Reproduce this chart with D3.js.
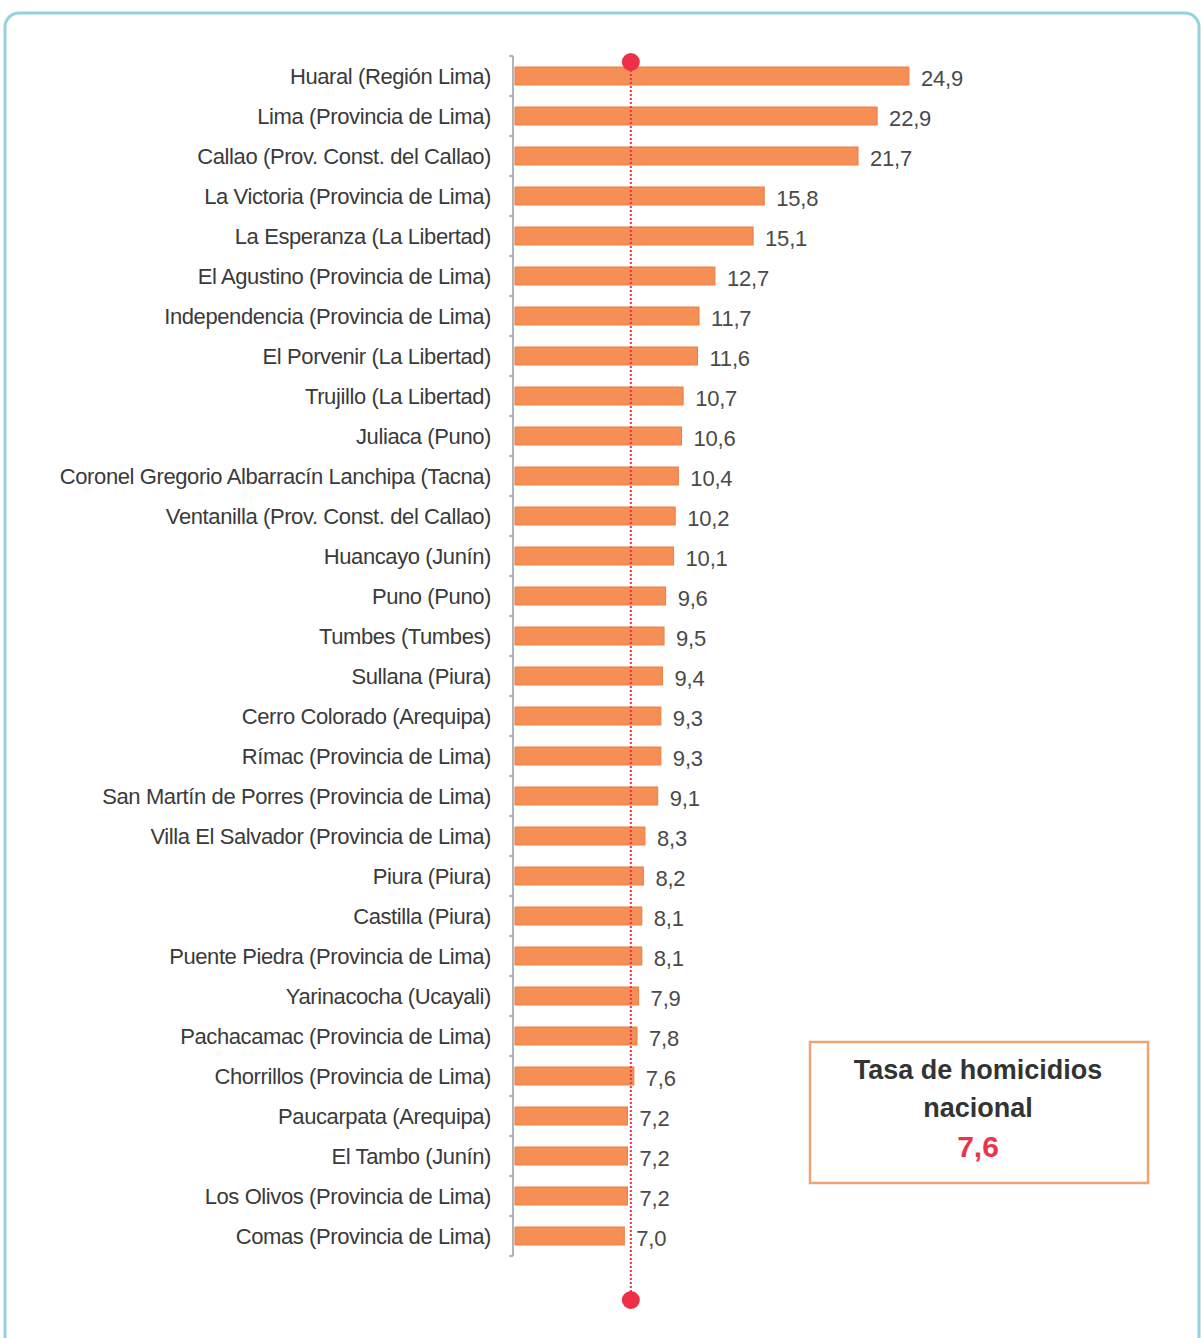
<!DOCTYPE html>
<html>
<head>
<meta charset="utf-8">
<script src="https://cdn.jsdelivr.net/npm/d3@7"></script>
<style>
  html, body { margin: 0; padding: 0; background: #fff; }
  svg { display: block; }
  .lbl { font-family: "Liberation Sans", Arial, sans-serif; }
</style>
</head>
<body>
<svg id="chart" width="1201" height="1338"></svg>
<script>
// districts, top to bottom
const districts = [
    "Huaral (Región Lima)",
    "Lima (Provincia de Lima)",
    "Callao (Prov. Const. del Callao)",
    "La Victoria (Provincia de Lima)",
    "La Esperanza (La Libertad)",
    "El Agustino (Provincia de Lima)",
    "Independencia (Provincia de Lima)",
    "El Porvenir (La Libertad)",
    "Trujillo (La Libertad)",
    "Juliaca (Puno)",
    "Coronel Gregorio Albarracín Lanchipa (Tacna)",
    "Ventanilla (Prov. Const. del Callao)",
    "Huancayo (Junín)",
    "Puno (Puno)",
    "Tumbes (Tumbes)",
    "Sullana (Piura)",
    "Cerro Colorado (Arequipa)",
    "Rímac (Provincia de Lima)",
    "San Martín de Porres (Provincia de Lima)",
    "Villa El Salvador (Provincia de Lima)",
    "Piura (Piura)",
    "Castilla (Piura)",
    "Puente Piedra (Provincia de Lima)",
    "Yarinacocha (Ucayali)",
    "Pachacamac (Provincia de Lima)",
    "Chorrillos (Provincia de Lima)",
    "Paucarpata (Arequipa)",
    "El Tambo (Junín)",
    "Los Olivos (Provincia de Lima)",
    "Comas (Provincia de Lima)"
];

const rates = [24.9, 22.9, 21.7, 15.8, 15.1, 12.7, 11.7, 11.6, 10.7, 10.6,
               10.4, 10.2, 10.1, 9.6, 9.5, 9.4, 9.3, 9.3, 9.1, 8.3,
               8.2, 8.1, 8.1, 7.9, 7.8, 7.6, 7.2, 7.2, 7.2, 7.0];

const nationalRate = 7.6;
const legendLines = ["Tasa de homicidios", "nacional"];

const fmt = v => d3.format(".1f")(v).replace(".", ",");

const svg = d3.select("#chart");

// outer rounded frame
svg.append("rect")
    .attr("x", 5)
    .attr("y", 13)
    .attr("width", 1194)
    .attr("height", 1345)
    .attr("rx", 14)
    .attr("fill", "#fff")
    .attr("stroke", "#93d2de")
    .attr("stroke-width", 3);

const x0 = 513;

const x = d3.scaleLinear()
    .domain([0, 1])
    .range([x0, x0 + 15.9]);

const y = d3.scaleBand()
    .domain(districts)
    .range([56, 1256])
    .paddingInner(0.55)
    .paddingOuter(0.275);

const chart = svg.append("g");

// category axis (ticks sit between bars)
const axisG = chart.append("g");
axisG.append("line")
    .attr("x1", x0).attr("x2", x0)
    .attr("y1", 56).attr("y2", 1256)
    .attr("stroke", "#9a9aa6")
    .attr("stroke-width", 1.5);

const tickPos = d3.range(districts.length + 1).map(i => 56 + i * y.step());
axisG.selectAll(".tick")
    .data(tickPos)
    .enter()
    .append("line")
    .attr("x1", x0 - 4).attr("x2", x0)
    .attr("y1", d => d).attr("y2", d => d)
    .attr("stroke", "#9a9aa6")
    .attr("stroke-width", 1.5);

// bars
chart.selectAll(".bar")
    .data(rates)
    .enter()
    .append("rect")
    .attr("class", "bar")
    .attr("x", x(0) + 2)
    .attr("y", (d, i) => y(districts[i]))
    .attr("width", d => x(d) - x(0) - 2)
    .attr("height", y.bandwidth())
    .attr("fill", "#f58f55")
    .attr("stroke", "#ea7f42")
    .attr("stroke-width", 1);

// category labels
chart.selectAll(".cat")
    .data(districts)
    .enter()
    .append("text")
    .attr("class", "lbl")
    .attr("x", x0 - 22)
    .attr("y", d => y(d) + y.bandwidth() / 2)
    .attr("dy", "0.36em")
    .attr("text-anchor", "end")
    .attr("font-size", 22)
    .attr("letter-spacing", -0.4)
    .attr("fill", "#3a3a3a")
    .text(d => d);

// value labels
chart.selectAll(".val")
    .data(rates)
    .enter()
    .append("text")
    .attr("class", "lbl")
    .attr("x", d => x(d) + 12)
    .attr("y", (d, i) => y(districts[i]) + y.bandwidth() / 2 + 2)
    .attr("dy", "0.36em")
    .attr("font-size", 22)
    .attr("letter-spacing", -0.2)
    .attr("fill", "#4a4a4a")
    .text(d => fmt(d));

// national reference line
const refX = x(nationalRate) - 3;
chart.append("line")
    .attr("x1", refX).attr("x2", refX)
    .attr("y1", 62).attr("y2", 1300)
    .attr("stroke", "#e8354a")
    .attr("stroke-width", 2)
    .attr("stroke-dasharray", "2,2");

chart.selectAll(".dot")
    .data([62, 1300])
    .enter()
    .append("circle")
    .attr("cx", refX)
    .attr("cy", d => d)
    .attr("r", 9)
    .attr("fill", "#ee2f48");

// legend box
const legend = svg.append("g").attr("transform", "translate(810,1042)");
legend.append("rect")
    .attr("width", 338)
    .attr("height", 141)
    .attr("fill", "#fff")
    .attr("stroke", "#f0a474")
    .attr("stroke-width", 2.5);

legend.selectAll(".leg")
    .data(legendLines)
    .enter()
    .append("text")
    .attr("x", 168)
    .attr("y", (d, i) => 37 + i * 38)
    .attr("text-anchor", "middle")
    .attr("font-family", "'Liberation Sans', Arial, sans-serif")
    .attr("font-weight", "bold")
    .attr("font-size", 27)
    .attr("fill", "#333")
    .text(d => d);

legend.append("text")
    .attr("x", 168)
    .attr("y", 115)
    .attr("text-anchor", "middle")
    .attr("font-family", "'Liberation Sans', Arial, sans-serif")
    .attr("font-weight", "bold")
    .attr("font-size", 30)
    .attr("fill", "#e8354a")
    .text(fmt(nationalRate));
</script>
</body>
</html>
